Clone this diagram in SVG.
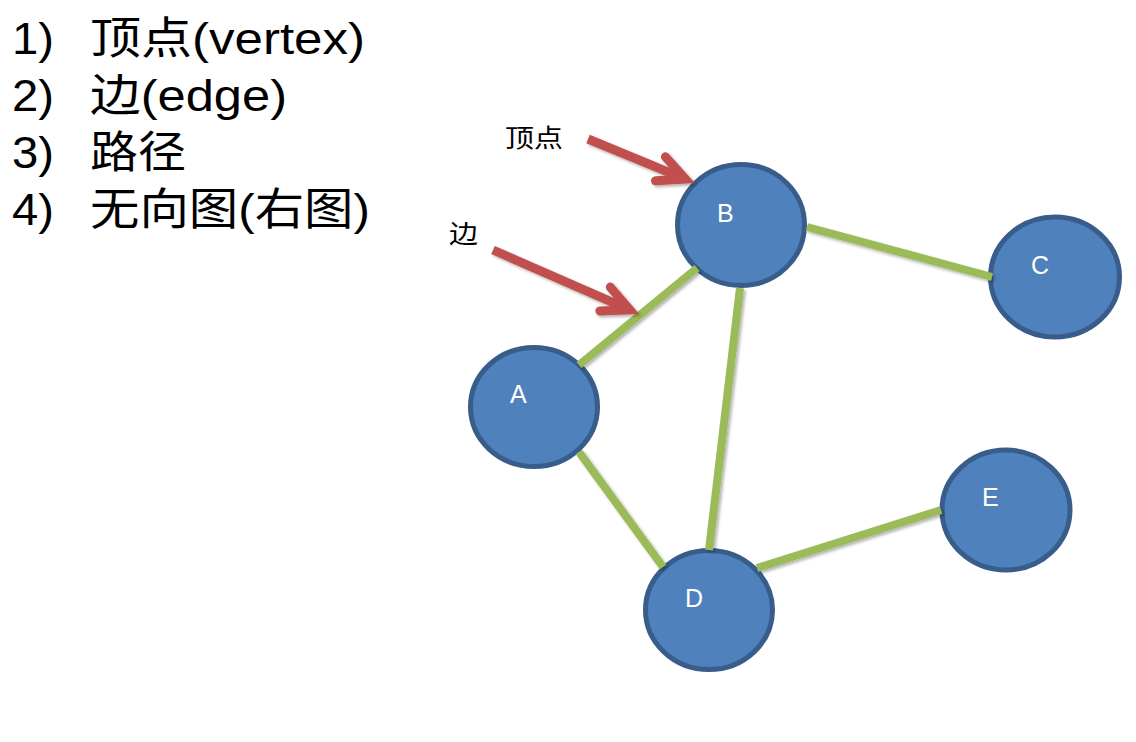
<svg xmlns="http://www.w3.org/2000/svg" width="1136" height="742" viewBox="0 0 1136 742">
<style>
.list{font-family:"Liberation Sans","Noto Sans CJK SC",sans-serif;font-size:44px;fill:#000}
.note{font-family:"Noto Sans CJK SC","Liberation Serif",serif;font-size:25px;fill:#000}
.node ellipse{fill:#4F81BD;stroke:#385D8A;stroke-width:5}
.node text{font-family:"Liberation Sans","Open Sans",sans-serif;font-size:25px;fill:#FFFFFF}
.edge{stroke:#9BBB59;stroke-width:8;stroke-linecap:butt;fill:none}
.arrow{stroke:#C0504D;stroke-width:9;fill:none;marker-end:url(#ah)}
</style>
<defs>
<filter id="sh" x="-20%" y="-20%" width="140%" height="140%">
<feDropShadow dx="2" dy="2" stdDeviation="1.5" flood-color="#000" flood-opacity="0.3"/>
</filter>
<marker id="ah" markerUnits="userSpaceOnUse" orient="auto" refX="0" refY="0" markerWidth="10" markerHeight="10" overflow="visible">
<path d="M -27 -13 L 0 0 L -27 13" fill="none" stroke="#C0504D" stroke-width="9" stroke-linejoin="miter" stroke-linecap="round" stroke-miterlimit="10"/>
</marker>
</defs>
<rect x="0" y="0" width="1136" height="742" fill="#FFFFFF"/>

<g id="list">
<text class="list" x="12" y="54" textLength="42" lengthAdjust="spacingAndGlyphs">1)</text>
<text class="list" x="90" y="54" textLength="275" lengthAdjust="spacingAndGlyphs">顶点(vertex)</text>
<text class="list" x="12" y="111" textLength="42" lengthAdjust="spacingAndGlyphs">2)</text>
<text class="list" x="90" y="111" textLength="197" lengthAdjust="spacingAndGlyphs">边(edge)</text>
<text class="list" x="12" y="168" textLength="42" lengthAdjust="spacingAndGlyphs">3)</text>
<text class="list" x="90" y="168" textLength="96" lengthAdjust="spacingAndGlyphs">路径</text>
<text class="list" x="12" y="225" textLength="42" lengthAdjust="spacingAndGlyphs">4)</text>
<text class="list" x="90" y="225" textLength="280" lengthAdjust="spacingAndGlyphs">无向图(右图)</text>
</g>

<g id="node-A" class="node"><ellipse cx="534" cy="407" rx="63.5" ry="59.5"/><text x="510" y="403">A</text></g>
<g id="node-B" class="node"><ellipse cx="741" cy="225" rx="63.5" ry="60.5"/><text x="717" y="222">B</text></g>
<g id="node-C" class="node"><ellipse cx="1055" cy="277" rx="64.5" ry="60"/><text x="1031" y="274">C</text></g>
<g id="node-D" class="node"><ellipse cx="709" cy="610" rx="63.5" ry="59.5"/><text x="685" y="607">D</text></g>
<g id="node-E" class="node"><ellipse cx="1006" cy="510" rx="64" ry="60"/><text x="982" y="506">E</text></g>

<g id="connectors" filter="url(#sh)">
<line class="edge" x1="579" y1="365" x2="697" y2="268"/>
<line class="edge" x1="807" y1="227" x2="992" y2="277"/>
<line class="edge" x1="740" y1="288" x2="709" y2="550"/>
<line class="edge" x1="579" y1="452" x2="663" y2="567"/>
<line class="edge" x1="757" y1="568" x2="941" y2="510"/>
</g>

<g id="callouts">
<text class="note" x="505" y="147" textLength="58" lengthAdjust="spacingAndGlyphs">顶点</text>
<text class="note" x="449" y="243" textLength="29" lengthAdjust="spacingAndGlyphs">边</text>
<g filter="url(#sh)">
<line class="arrow" x1="588" y1="139" x2="685.4" y2="179.1"/>
<line class="arrow" x1="493" y1="250" x2="629.8" y2="309.8"/>
</g>
</g>
</svg>
